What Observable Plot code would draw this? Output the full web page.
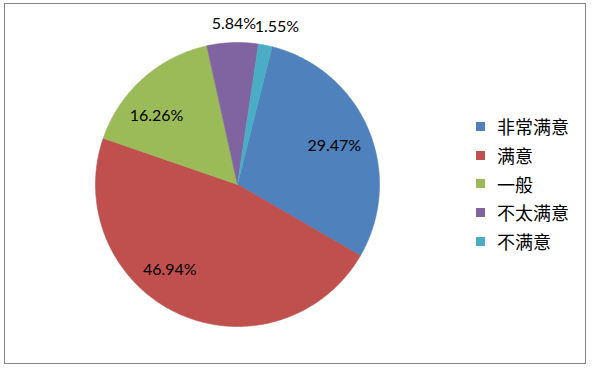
<!DOCTYPE html>
<html><head><meta charset="utf-8">
<script src="https://cdn.jsdelivr.net/npm/d3@7"></script>
<script src="https://cdn.jsdelivr.net/npm/@observablehq/plot@0.6"></script>
<style>
body{margin:0;background:#fff;}
#wrap{position:relative;width:592px;height:370px;overflow:hidden;background:#fff;}
#border{position:absolute;left:4px;top:3px;width:582px;height:361px;border:1px solid #868686;box-sizing:border-box;pointer-events:none;}
#chart{position:absolute;left:0;top:0;}
#legend{position:absolute;left:476px;top:112px;font-family:"Noto Sans CJK SC","Noto Sans",sans-serif;font-size:18px;color:#000;}
.row{display:flex;align-items:center;height:28.7px;}
.sw{width:9px;height:9px;margin-right:12px;}
</style>
</head><body>
<div id="wrap"><div id="chart"></div><div id="legend"></div><div id="border"></div></div>
<script>
const categories = ["非常满意", "满意", "一般", "不太满意", "不满意"];
const values = [29.47, 46.94, 16.26, 5.84, 1.55];
const labels = ["29.47%", "46.94%", "16.26%", "5.84%", "1.55%"];
const colors = ["#4F81BD", "#C0504D", "#9BBB59", "#8064A2", "#4BACC6"];

const startDeg = 14.1;
const total = d3.sum(values);
const rad = d => d * Math.PI / 180;

// slice polygons (unit circle), built from the values
const pts = [];
const slices = [];
let acc = startDeg;
values.forEach((v, i) => {
  const a0 = acc, a1 = acc + v / total * 360;
  acc = a1;
  slices.push({cat: categories[i], a0, a1, mid: (a0 + a1) / 2});
  pts.push({cat: categories[i], x: 0, y: 0});
  const n = Math.max(2, Math.ceil((a1 - a0) / 0.5));
  for (let k = 0; k <= n; k++) {
    const a = rad(a0 + (a1 - a0) * k / n);
    pts.push({cat: categories[i], x: Math.sin(a), y: Math.cos(a)});
  }
  pts.push({cat: categories[i], x: 0, y: 0});
});

// label placement: radius fraction and pixel nudge (layout)
const R = 142;
const place = [[0.74, 0, 2], [0.74, -24, -10], [0.74, -11, 10], [1.13, 2, 0], [1.13, 8, 0]];
const labs = slices.map((s, i) => {
  const [f, ox, oy] = place[i];
  return {text: labels[i], x: f * Math.sin(rad(s.mid)) + ox / R, y: f * Math.cos(rad(s.mid)) - oy / R};
});

const plot = Plot.plot({
  width: 592, height: 370,
  marginLeft: 237 - R, marginRight: 592 - 237 - R,
  marginTop: 184 - R, marginBottom: 370 - 184 - R,
  x: {domain: [-1, 1], axis: null},
  y: {domain: [-1, 1], axis: null},
  color: {domain: categories, range: colors},
  style: {background: "transparent", overflow: "visible"},
  marks: [
    Plot.line(pts, {x: "x", y: "y", z: "cat", fill: "cat", stroke: "cat", strokeWidth: 0.6, curve: "linear"}),
    Plot.text(labs, {x: "x", y: "y", text: "text", fontSize: 16, fontFamily: "Lato, 'Liberation Sans', sans-serif", fill: "#000", textAnchor: "middle", clip: false})
  ]
});
document.getElementById("chart").appendChild(plot);

const leg = document.getElementById("legend");
categories.forEach((c, i) => {
  const r = document.createElement("div"); r.className = "row";
  const s = document.createElement("div"); s.className = "sw"; s.style.background = colors[i];
  const t = document.createElement("span"); t.textContent = c;
  r.appendChild(s); r.appendChild(t); leg.appendChild(r);
});
</script>
</body></html>
